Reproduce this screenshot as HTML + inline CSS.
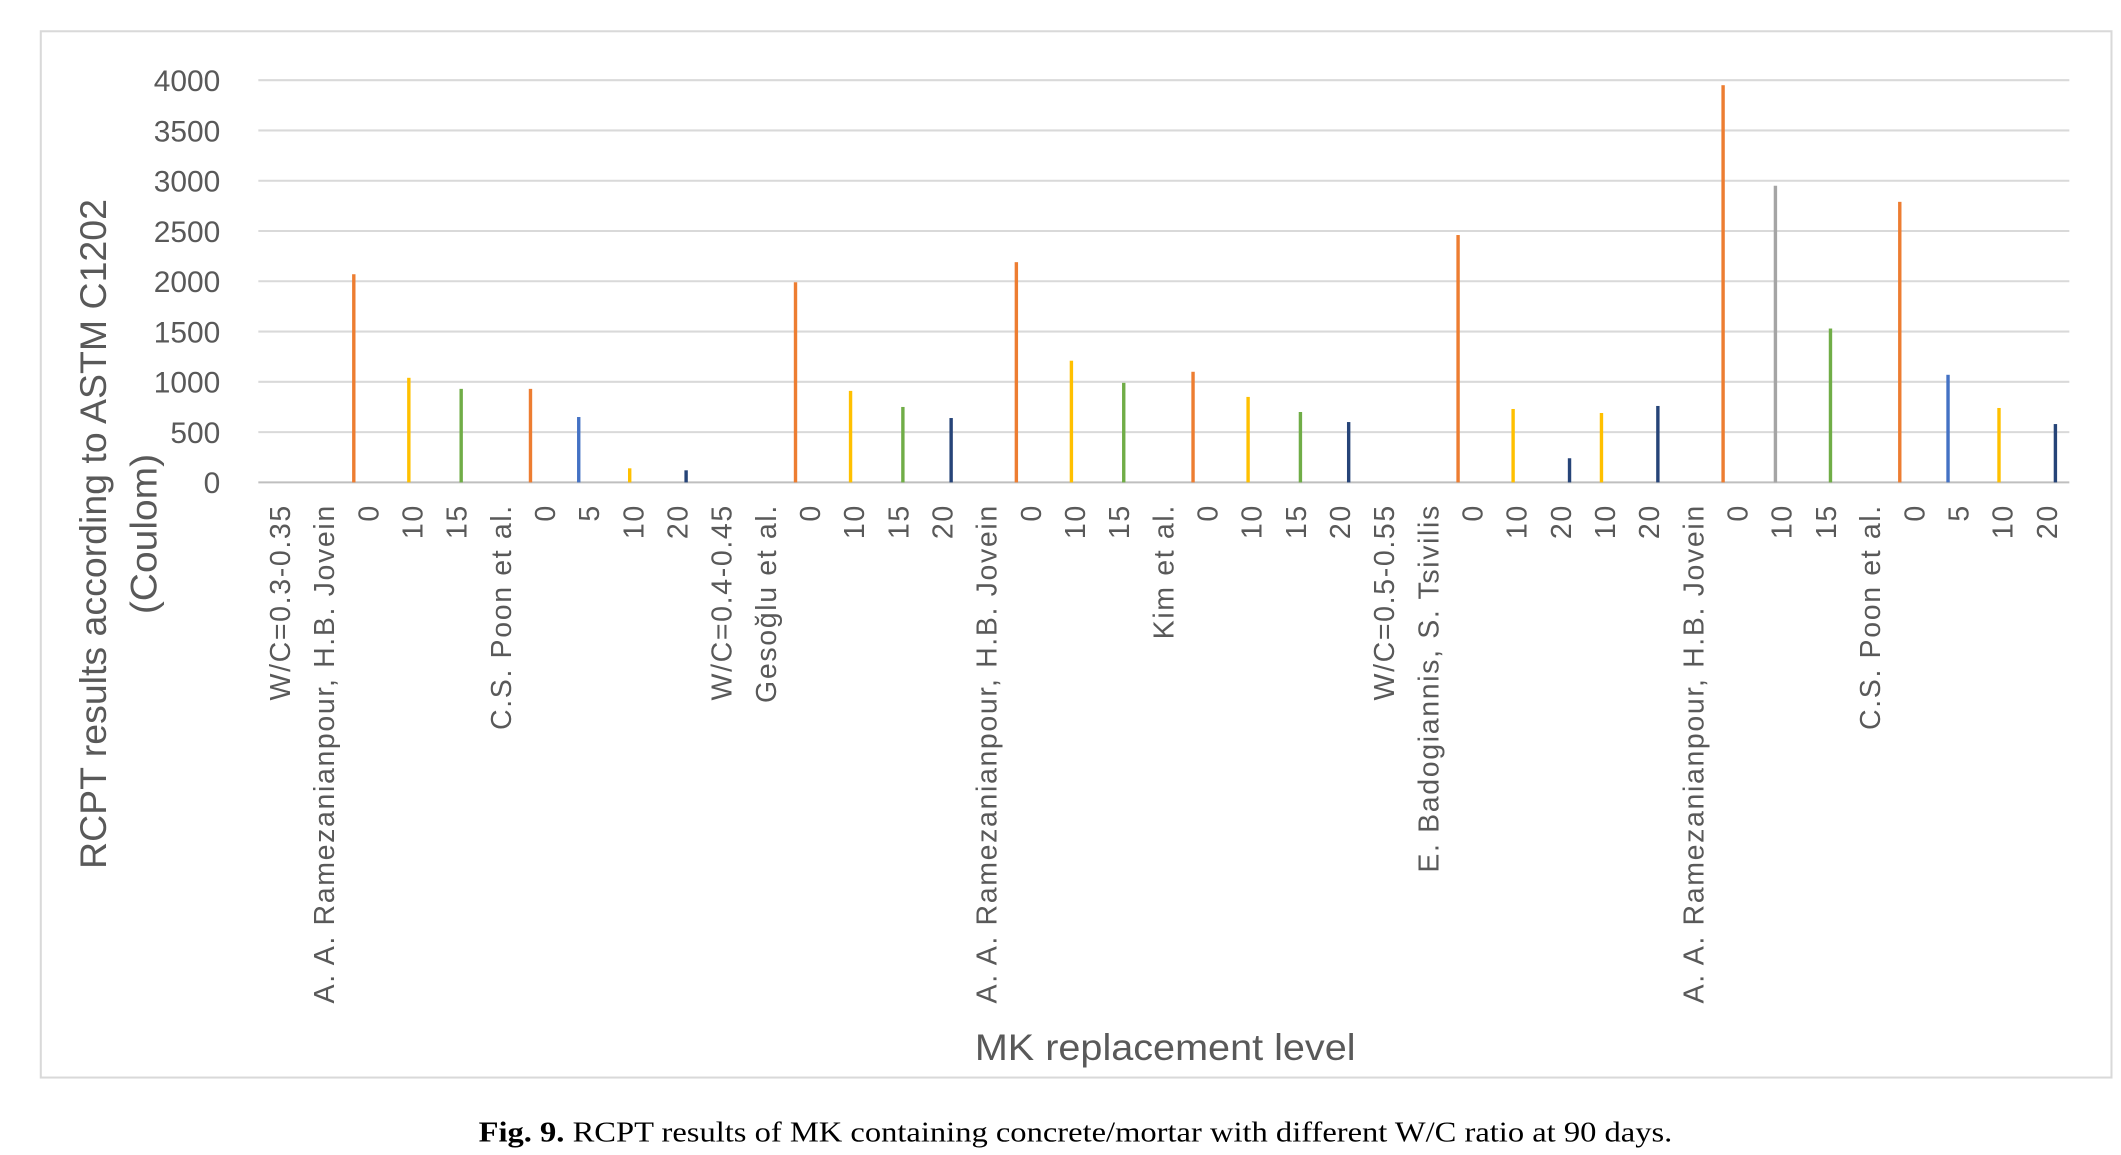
<!DOCTYPE html>
<html><head><meta charset="utf-8"><style>
html,body{margin:0;padding:0;background:#fff;}
svg{display:block;}
</style></head><body>
<svg id="chart" width="2121" height="1155" viewBox="0 0 1560 850" preserveAspectRatio="none" xmlns="http://www.w3.org/2000/svg">
<rect x="30" y="23" width="1523" height="770" fill="#fff" stroke="#d9d9d9" stroke-width="1.5"/>
<g id="grid"></g><g id="bars"></g><g id="ylabels"></g><g id="xlabels"></g>
<text transform="translate(78,393) rotate(-90)" text-anchor="middle" font-family="Liberation Sans, sans-serif" font-size="27" textLength="493" lengthAdjust="spacingAndGlyphs" fill="#595959">RCPT results according to ASTM C1202</text>
<text transform="translate(115,393) rotate(-90)" text-anchor="middle" font-family="Liberation Sans, sans-serif" font-size="27" textLength="118" lengthAdjust="spacingAndGlyphs" fill="#595959">(Coulom)</text>
<text x="857" y="780" text-anchor="middle" font-family="Liberation Sans, sans-serif" font-size="27" textLength="280" lengthAdjust="spacingAndGlyphs" fill="#595959">MK replacement level</text>
<text x="791" y="840" text-anchor="middle" font-family="Liberation Serif, serif" font-size="21" textLength="878" lengthAdjust="spacingAndGlyphs" fill="#000"><tspan font-weight="bold">Fig. 9.</tspan>  RCPT results of MK containing concrete/mortar with different W/C ratio at 90 days.</text>
</svg>
<script>
const categories = ["W/C=0.3-0.35","A. A. Ramezanianpour, H.B. Jovein","0","10","15","C.S. Poon et al.","0","5","10","20","W/C=0.4-0.45","Gesoğlu et al.","0","10","15","20","A. A. Ramezanianpour, H.B. Jovein","0","10","15","Kim et al.","0","10","15","20","W/C=0.5-0.55","E. Badogiannis, S. Tsivilis","0","10","20","10","20","A. A. Ramezanianpour, H.B. Jovein","0","10","15","C.S. Poon et al.","0","5","10","20"];
const values = [null,null,2070,1040,930,null,930,650,140,120,null,null,1990,910,750,640,null,2190,1210,990,null,1100,850,700,600,null,null,2460,730,240,690,760,null,3950,2950,1530,null,2790,1070,740,580];
const seriesIdx = [null,null,0,1,2,null,0,3,1,4,null,null,0,1,2,4,null,0,1,2,null,0,1,2,4,null,null,0,1,4,1,4,null,0,5,2,null,0,3,1,4];
const yTicks = [0,500,1000,1500,2000,2500,3000,3500,4000];
const seriesColors = ["#ED7D31","#FFC000","#70AD47","#4472C4","#264478","#A5A5A5"];
const seriesOffset = [-11,-3,3,-8,6,-5];
const X0=190, X1=1522, Y0=355, YTOP=59, YMAX=4000;
const band=(X1-X0)/categories.length;
const xC=i=>X0+(i+0.5)*band;
const yS=v=>Y0-(v/YMAX)*(Y0-YTOP);
const NS="http://www.w3.org/2000/svg";
const grid=document.getElementById('grid'), bars=document.getElementById('bars'), yl=document.getElementById('ylabels'), xl=document.getElementById('xlabels');
yTicks.forEach(t=>{
  const l=document.createElementNS(NS,'line');
  
  
  l.setAttribute('x1',X0);l.setAttribute('x2',X1);l.setAttribute('y1',yS(t));l.setAttribute('y2',yS(t));
  l.setAttribute('stroke',t===0?'#bfbfbf':'#d9d9d9');l.setAttribute('stroke-width','1.5');
  grid.appendChild(l);
  const tx=document.createElementNS(NS,'text');
  
  
  tx.setAttribute('x',162);tx.setAttribute('y',yS(t)+8);tx.setAttribute('text-anchor','end');
  tx.setAttribute('font-family','Liberation Sans, sans-serif');tx.setAttribute('font-size','22');tx.setAttribute('fill','#595959');
  tx.textContent=t;yl.appendChild(tx);
});
categories.forEach((c,i)=>{
  const tx=document.createElementNS(NS,'text');
  
  
  const x=xC(i)+7;
  tx.setAttribute('transform','translate('+x+',371) rotate(-90)');
  tx.setAttribute('text-anchor','end');
  tx.setAttribute('font-family','Liberation Sans, sans-serif');tx.setAttribute('font-size','21');tx.setAttribute('letter-spacing','1.2');tx.setAttribute('fill','#595959');
  tx.textContent=c;xl.appendChild(tx);
  if(values[i]!=null){
    const s=seriesIdx[i];
    const r=document.createElementNS(NS,'rect');
    
    
    const bx=xC(i)+seriesOffset[s];
    r.setAttribute('x',bx-1.25);r.setAttribute('width',2.5);
    r.setAttribute('y',yS(values[i]));r.setAttribute('height',Y0-yS(values[i]));
    r.setAttribute('fill',seriesColors[s]);
    bars.appendChild(r);
  }
});
</script>
</body></html>
